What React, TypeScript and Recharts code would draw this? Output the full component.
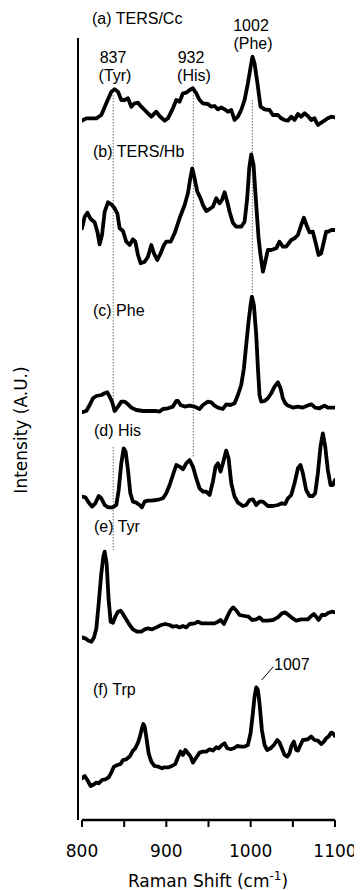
import React from "react";
import { LineChart, Line, XAxis, YAxis, ReferenceLine } from "recharts";

// Raman shift (cm^-1) sample positions and intensities (A.U.) for each spectrum
const shiftA = [800,805.1,817,822.9,828.8,834.8,838.7,842.7,846.6,850.6,854.5,858.5,862.4,866.4,870.3,874.3,878.2,882.2,888.1,892,898,901.9,907.8,911.8,915.7,919.7,923.6,927.6,931.5,935.5,939.4,943.4,949.3,953.3,957.2,961.2,965.1,969.1,973,977,980.9,984.9,988.8,992.8,996.7,1000.7,1002.2,1004.6,1008.6,1011.7,1016.5,1022.4,1026.3,1032.3,1036.2,1040.2,1044.1,1048.1,1052,1056,1059.9,1063.9,1067.8,1071.8,1075.7,1079.7,1085.6,1091.5,1095.5,1100];
const tersCc = [1.3,3.7,3.7,7,18.7,30.3,32.7,30.3,22,22,23.7,15.3,18.7,19.3,15.3,12,8.7,5.3,10.3,6,1.3,3.7,13.7,22,20.3,28.7,29.3,32,33.7,28.7,22,18.7,18,15.3,16,12.7,14.7,12.7,10.3,12,2,5.3,12,22,38.7,58.7,65.3,58.7,35.3,15.3,12.7,12,7,7,3.7,2,1.3,5.3,2,8,5.3,8.7,6,2,3.7,-3,0.3,3.7,5.3,4.7];

const shiftB = [800,803.2,806.3,810.3,815,818.2,820.9,823.7,826.9,830.8,834.8,838.7,841.9,844.6,848.6,852.5,856.5,860.4,863.2,866.4,869.5,874.3,878.2,882.2,885.3,889.3,893.2,897.2,899.9,905.1,909.8,915.7,921.7,925.6,928.4,930.7,933.5,936.7,940.6,943.4,947.3,951.3,955.2,959.2,963.1,965.9,969.1,972.2,975,978.9,982.9,988.8,992.8,995.9,998.3,1000.7,1003.4,1006.6,1009.4,1011.7,1014.5,1017.3,1020.4,1024.4,1030.3,1034.2,1038.2,1042.1,1048.1,1052,1056,1059.9,1063.1,1066.2,1069.8,1073.7,1077.7,1080.5,1083.6,1086.8,1089.5,1092.3,1095.5,1100];
const tersHb = [46.7,58.3,62.3,56,52.7,43.3,30.7,40,63.3,72.7,70.7,66.7,61.7,46.7,44,33.3,30,35.7,33.3,20,11.7,13.3,18.3,30,21.7,15,21.7,30,33.3,33.3,41.7,56.7,70,81.7,96.7,106.7,96.7,83.3,76.7,70,64,66,68.3,76.7,71.7,75,82.7,73.3,63.3,52.3,48.3,48.3,53.3,76.7,106.7,120.7,110,70,36.7,20,3.3,13.3,25,25,26.7,33.3,28.3,28.3,35,36.7,40,50,57.3,50,42.7,43.3,30,20,21.7,33.3,43.3,43.3,45,45];

const shiftC = [800,805.1,809.1,813,817,822.9,826.9,830,832.8,835.6,838.7,842.7,846.6,850.6,854.5,858.5,864.4,872.3,880.2,888.1,892,896,901.9,907.8,911.8,913.8,916.9,921.7,927.6,933.5,939.4,943.4,949.3,953.3,957.2,961.2,967.1,971,976.2,980.9,984.9,988.8,992,994.7,997.5,999.9,1001.5,1003.8,1006.6,1008.6,1010.5,1012.5,1016.5,1020.4,1024.4,1028.3,1032.3,1035.4,1038.2,1041,1044.1,1050,1056,1061.9,1067.8,1071.8,1076.5,1081.6,1087.6,1091.5,1095.5,1100];
const phe = [1,2.3,8.3,15,17.3,18.3,20,21,16.7,11.7,2.3,6.7,11.7,11.7,9,5.7,3.3,2.3,2.3,2.3,1.7,4.3,5,6.7,12.3,12.3,8.3,6.7,7.7,6.7,4.3,8.3,11.7,11,7.7,5.7,4.3,9,8.3,10,18.3,28.3,45,68.3,91.7,108.3,116.7,108.3,78.3,45,18.3,11.7,12.3,15,20,26.7,31,25,15,10,7.7,5.7,6.7,5.7,7.7,9,5.7,5,7.7,5.7,5.7,5.7];

const shiftD = [800,804,807.9,811.9,815.8,819.8,822.9,826.9,830.8,836.7,840.7,843.5,846.6,849.4,851.7,854.5,857.3,860.4,864.4,868.3,871.1,874.3,878.2,882.2,888.1,892,896,899.9,903.9,907.8,911.8,915.7,919.7,923.6,927.6,931.5,935.5,939.4,943.4,947.3,951.3,955.2,958.4,961.2,964.3,967.1,971,973.8,977,980.9,984.9,990.8,994.7,998.7,1002.6,1006.6,1010.5,1014.5,1020.4,1026.3,1032.3,1037,1041,1044.1,1048.1,1052,1056,1059.1,1061.9,1065.8,1069.8,1073.7,1076.5,1079.7,1082.8,1085.6,1088.4,1091.5,1094.7,1097.4,1100];
const his = [10.7,10,4.7,0.7,4,11.3,9,2.3,0,0,2.3,17.3,44,59,55.7,37.3,14,5.7,4.7,2.3,0,5.7,6.7,6.7,7.3,8,9,14,22.3,32.3,42.3,40.7,38,44,47.3,40.7,29,19,15.7,15.7,12.3,25.7,40.7,44,35.7,44,56.7,49,24,10.7,4.7,1.3,2.3,7.3,8,2.3,5.7,5.7,1.3,1.3,2.3,4,3.3,9,12.3,24,39,42.3,34,17.3,11.3,11.3,14,34,60.7,74,60.7,37.3,22.3,22.3,27.3];

const shiftE = [800,804,807.9,811.1,814.2,817,819.8,822.9,825.3,826.9,829.2,831.6,834,836.7,839.5,842.7,845.8,848.6,852.5,856.5,860.4,865.6,870.3,874.3,878.2,883,888.1,894,898.8,903.9,907.8,911.8,915.7,919.7,923.6,927.6,933.5,937.5,942.2,947.3,953.3,957.2,961.2,964.3,968.3,972.2,976.2,979.3,982.5,986.8,992.8,997.5,1001.5,1006.6,1010.5,1014.5,1020.4,1026.3,1032.3,1037,1041,1044.9,1050,1054,1059.9,1067.8,1071.8,1074.9,1077.7,1080.5,1084.4,1088.4,1092.3,1096.3,1100];
const tyr = [4.3,3.3,1,0,4.3,13.3,38.3,68.3,85,90,78.3,41.7,20,19,25,30,31,27.7,22.3,16.7,12.3,10,10,12.3,13.3,12.3,14.3,16.7,17.7,16.7,15,15.7,14.3,15.7,14.3,17.7,18.3,20,18.3,18.3,18.3,18.3,20,21.7,17.7,25,31.7,34.3,31.7,26.7,25.7,25,21.7,22.3,24.3,21,21,21.7,24.3,28.3,29.3,26.7,23.3,21,22.3,22.3,25.7,27.7,25,21.7,26.7,26.7,29,30,29.3];

const shiftF = [800,803.2,806.3,810.3,813,817,819.8,823.7,827.7,831.6,834.8,837.9,841.9,845.8,848.6,852.5,856.5,860.4,863.2,866.4,868.7,871.1,872.7,874.3,876.2,879,882.2,886.1,890.1,894.8,897.8,902.7,906.7,910.6,913.8,916.9,919.7,922.5,925.6,928.8,931.5,933.5,936.7,939.4,943.4,947.3,951.3,955.2,959.2,962,965.9,969.1,972.2,976.2,980.1,984.1,988.8,992.8,996.7,999.9,1002.6,1004.6,1006.6,1008.6,1010.5,1013.3,1016.5,1019.6,1023.6,1027.5,1031.5,1034.2,1037,1040.2,1043.3,1046.1,1048.1,1051.2,1054,1056,1059.1,1061.9,1067.8,1071.8,1075.7,1079.7,1083.6,1086.8,1089.5,1092.3,1095.5,1097.4,1100];
const trp = [9,11.3,7.3,1.3,2.3,4.7,4,7.3,8,10,14.7,20.7,22.3,23.3,27.3,28,30.7,36.7,39,44.7,50.7,59,63.3,60.7,50.7,34,25.7,21.3,20.7,19,20,20,21.3,23.3,30,35.7,32.3,37.3,34,30.7,24.7,27.3,31.3,34.7,35.7,35.7,38,36.7,40,39,42.3,44,39,38,39,41.3,40.7,40.7,42.3,54,74,90.7,100,97.3,84,57.3,42.3,37.3,39,42.3,47.3,44.7,39,32.3,30.7,34,40.7,45.7,37.3,36.7,42.3,47.3,48,50.7,47.3,46.7,43.3,45.7,49,50.7,54.7,54,51.3];

// vertical stacking offsets of the spectra (A.U.)
const offsets = [698, 545, 406.7, 312.7, 178.3, 32.7];
const spectra = [
  { name: "(a) TERS/Cc", shift: shiftA, values: tersCc },
  { name: "(b) TERS/Hb", shift: shiftB, values: tersHb },
  { name: "(c) Phe", shift: shiftC, values: phe },
  { name: "(d) His", shift: shiftD, values: his },
  { name: "(e) Tyr", shift: shiftE, values: tyr },
  { name: "(f) Trp", shift: shiftF, values: trp },
];

const xTicks = [800, 850, 900, 950, 1000, 1050, 1100];
const xTickLabels = [800, 900, 1000, 1100];

// dotted marker lines: [shift, from, to]
const markerLines: [number, number, number][] = [
  [837, 725, 408],
  [837, 373, 270],
  [932, 728, 363],
  [1002, 720, 527],
];

const W = 354;
const H = 882;
const annFont = "'Liberation Sans', Arial, sans-serif";
const axisFont = "'DejaVu Sans', sans-serif";

export default function App() {
  return (
    <div style={{ position: "relative", width: W, height: H }}>
      <LineChart width={W} height={H} margin={{ top: 30, right: 27, bottom: 0, left: 0 }}>
        <XAxis
          type="number"
          dataKey="x"
          domain={[800, 1100]}
          ticks={xTicks}
          allowDataOverflow
          padding={{ left: 4, right: 0 }}
          height={70}
          axisLine={false}
          tickLine={{ stroke: "#000", strokeWidth: 2 }}
          tickSize={7}
          tickMargin={18}
          tickFormatter={(v: number) => (xTickLabels.includes(v) ? String(v) : "")}
          tick={{ fill: "#000", fontSize: 17, fontFamily: axisFont }}
        />
        <YAxis
          type="number"
          domain={[0, 782]}
          width={70}
          tick={false}
          tickLine={false}
          axisLine={{ stroke: "#000", strokeWidth: 2 }}
          allowDataOverflow
        />
        {markerLines.map(([x, y1, y2], i) => (
          <ReferenceLine
            key={"m" + i}
            segment={[{ x, y: y1 }, { x, y: y2 }]}
            stroke="#444"
            strokeWidth={0.8}
            strokeDasharray="1.5 1.5"
            ifOverflow="visible"
          />
        ))}
        <ReferenceLine
          segment={[{ x: 800, y: 0 }, { x: 1100, y: 0 }]}
          stroke="#000"
          strokeWidth={2.5}
          ifOverflow="visible"
        />
        {spectra.map((s, k) => (
          <Line
            key={s.name}
            name={s.name}
            data={s.shift.map((x, i) => ({ x, v: s.values[i] + offsets[k] }))}
            dataKey="v"
            type="linear"
            dot={false}
            activeDot={false}
            stroke="#000"
            strokeWidth={3.8}
            strokeLinejoin="round"
            strokeLinecap="round"
            isAnimationActive={false}
          />
        ))}
      </LineChart>
      <svg
        width={W}
        height={H}
        style={{ position: "absolute", left: 0, top: 0, pointerEvents: "none" }}
      >
        <g fontFamily={annFont} fontSize={16} fill="#000">
          <text x={84} y={16}>(a) TERS/Cc</text>
          <text x={243} y={23} textAnchor="middle">1002</text>
          <text x={245} y={41} textAnchor="middle">(Phe)</text>
          <text x={105} y={55} textAnchor="middle">837</text>
          <text x={107} y={73} textAnchor="middle">(Tyr)</text>
          <text x={183} y={55} textAnchor="middle">932</text>
          <text x={186} y={73} textAnchor="middle">(His)</text>
          <text x={85} y={149}>(b) TERS/Hb</text>
          <text x={85} y={308}>(c) Phe</text>
          <text x={86} y={428}>(d) His</text>
          <text x={86} y={524}>(e) Tyr</text>
          <text x={85} y={687}>(f) Trp</text>
          <text x={266} y={662}>1007</text>
        </g>
        <line x1={253.7} y1={672} x2={265.3} y2={658.7} stroke="#000" strokeWidth={1} />
        <text
          x={200}
          y={879}
          textAnchor="middle"
          fontFamily={axisFont}
          fontSize={17}
          fill="#000"
        >
          Raman Shift (cm<tspan dy={-7} fontSize={12}>-1</tspan>
          <tspan dy={7}>)</tspan>
        </text>
        <text
          transform="translate(19,422) rotate(-90)"
          textAnchor="middle"
          fontFamily={axisFont}
          fontSize={17}
          fill="#000"
        >
          Intensity (A.U.)
        </text>
      </svg>
    </div>
  );
}
